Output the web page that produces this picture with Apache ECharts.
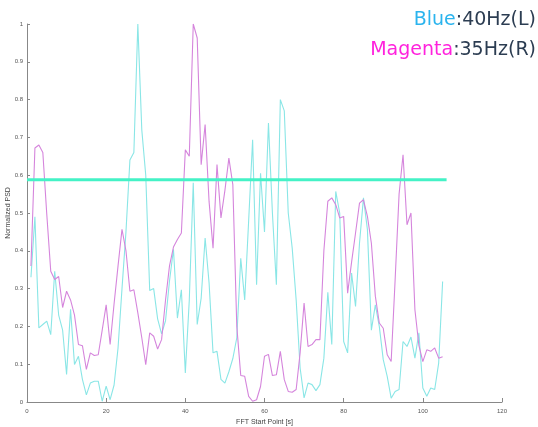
<!DOCTYPE html>
<html>
<head>
<meta charset="utf-8">
<script src="https://cdn.jsdelivr.net/npm/echarts@6/dist/echarts.min.js"></script>
<style>html,body{margin:0;padding:0;background:#fff}#c{width:538px;height:427px}</style>
</head>
<body>
<div id="c"></div>
<script>
var startPoints = [1,2,3,4,5,6,7,8,9,10,11,12,13,14,15,16,17,18,19,20,21,22,23,24,25,26,27,28,29,30,31,32,33,34,35,36,37,38,39,40,41,42,43,44,45,46,47,48,49,50,51,52,53,54,55,56,57,58,59,60,61,62,63,64,65,66,67,68,69,70,71,72,73,74,75,76,77,78,79,80,81,82,83,84,85,86,87,88,89,90,91,92,93,94,95,96,97,98,99,100,101,102,103,104,105];
var blue40 = [0.33,0.49,0.196,0.205,0.214,0.178,0.346,0.23,0.19,0.073,0.245,0.099,0.121,0.06,0.019,0.05,0.055,0.055,0.002,0.042,0.006,0.045,0.143,0.3,0.45,0.64,0.66,1.0,0.72,0.6,0.295,0.3,0.22,0.18,0.215,0.32,0.404,0.222,0.297,0.077,0.27,0.58,0.205,0.275,0.434,0.315,0.13,0.134,0.06,0.05,0.08,0.115,0.17,0.38,0.27,0.48,0.694,0.31,0.605,0.45,0.738,0.5,0.31,0.8,0.77,0.5,0.407,0.27,0.09,0.011,0.05,0.046,0.03,0.046,0.116,0.29,0.152,0.557,0.5,0.16,0.13,0.341,0.253,0.42,0.54,0.456,0.19,0.257,0.2,0.112,0.068,0.01,0.028,0.033,0.16,0.147,0.172,0.116,0.183,0.037,0.015,0.037,0.033,0.103,0.319];
var magenta35 = [0.36,0.672,0.68,0.66,0.496,0.346,0.324,0.332,0.25,0.293,0.27,0.23,0.152,0.149,0.086,0.13,0.123,0.125,0.19,0.257,0.152,0.26,0.36,0.457,0.4,0.293,0.297,0.236,0.17,0.099,0.183,0.174,0.14,0.165,0.27,0.36,0.41,0.43,0.447,0.667,0.65,1.0,0.963,0.628,0.734,0.53,0.407,0.628,0.487,0.56,0.645,0.575,0.2,0.07,0.068,0.015,0.002,0.006,0.041,0.121,0.126,0.07,0.072,0.134,0.059,0.028,0.026,0.033,0.13,0.262,0.147,0.152,0.165,0.165,0.4,0.531,0.54,0.522,0.487,0.491,0.288,0.37,0.447,0.526,0.535,0.491,0.42,0.28,0.209,0.195,0.125,0.107,0.323,0.55,0.654,0.469,0.5,0.244,0.15,0.107,0.138,0.134,0.143,0.116,0.12];
var thresholdX = [0, 106];
var thresholdY = [0.588, 0.588];
var xTicks = [0, 20, 40, 60, 80, 100, 120];
var yTicks = [0, 0.1, 0.2, 0.3, 0.4, 0.5, 0.6, 0.7, 0.8, 0.9, 1];

function zip(xs, ys) { return xs.map(function (x, i) { return [x, ys[i]]; }); }

var chart = echarts.init(document.getElementById('c'), null, {renderer: 'canvas'});
chart.setOption({
  animation: false,
  backgroundColor: '#ffffff',
  grid: {left: 27, right: 36, top: 24, bottom: 25, containLabel: false, outerBoundsMode: 'none'},
  xAxis: {
    type: 'value', min: xTicks[0], max: xTicks[xTicks.length - 1], interval: 20,
    name: 'FFT Start Point [s]', nameLocation: 'middle', nameGap: 17, nameMoveOverlap: false,
    nameTextStyle: {fontSize: 7, color: '#444', fontFamily: 'Liberation Sans'},
    axisLine: {lineStyle: {color: '#888', width: 1}},
    axisTick: {inside: true, length: 4, lineStyle: {color: '#888'}},
    axisLabel: {fontSize: 6, color: '#555', margin: 6, fontFamily: 'Liberation Sans'},
    splitLine: {show: false}
  },
  yAxis: {
    type: 'value', min: yTicks[0], max: yTicks[yTicks.length - 1], interval: 0.1,
    name: 'Normalized PSD', nameLocation: 'middle', nameGap: 15, nameMoveOverlap: false,
    nameTextStyle: {fontSize: 7, color: '#444', fontFamily: 'Liberation Sans'},
    axisLine: {show: true, lineStyle: {color: '#888', width: 1}},
    axisTick: {show: true, inside: true, length: 3, lineStyle: {color: '#888'}},
    axisLabel: {fontSize: 6, color: '#555', margin: 4, fontFamily: 'Liberation Sans',
      formatter: function (v) { return String(Math.round(v * 10) / 10); }},
    splitLine: {show: false}
  },
  graphic: [{
    type: 'text', right: 2, top: 5,
    style: {
      text: '{b|Blue}{d|:40Hz(L)}\n{m|Magenta}{d|:35Hz(R)}',
      align: 'right', lineHeight: 30,
      rich: {
        b: {fontSize: 19, fontFamily: 'DejaVu Sans', fill: '#2bb4ee', lineHeight: 30, align: 'right'},
        m: {fontSize: 19, fontFamily: 'DejaVu Sans', fill: '#ff22dd', lineHeight: 30, align: 'right'},
        d: {fontSize: 19, fontFamily: 'DejaVu Sans', fill: '#2c3d52', lineHeight: 30, align: 'right'}
      }
    }
  }],
  series: [
    {type: 'line', name: 'Blue 40Hz', data: zip(startPoints, blue40), showSymbol: false,
      lineStyle: {color: '#8ae6e6', width: 1.1}, itemStyle: {color: '#8ae6e6'}, z: 2},
    {type: 'line', name: 'Magenta 35Hz', data: zip(startPoints, magenta35), showSymbol: false,
      lineStyle: {color: '#d585dc', width: 1.1}, itemStyle: {color: '#d585dc'}, z: 3},
    {type: 'line', name: 'Threshold', data: zip(thresholdX, thresholdY), showSymbol: false,
      lineStyle: {color: '#44f2c6', width: 3}, itemStyle: {color: '#44f2c6'}, z: 4}
  ]
});
</script>
</body>
</html>
